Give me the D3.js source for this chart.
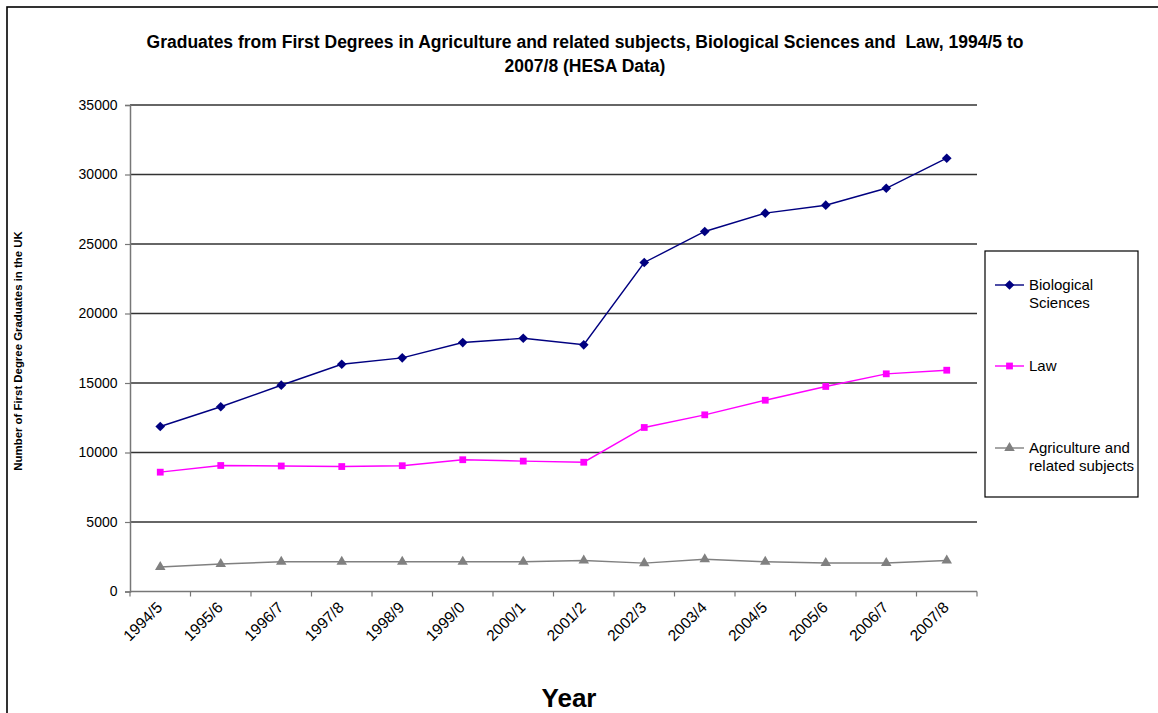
<!DOCTYPE html>
<html>
<head>
<meta charset="utf-8">
<script src="https://cdn.jsdelivr.net/npm/d3@7"></script>
<style>
  html, body { margin: 0; padding: 0; background: #fff; }
  svg { display: block; font-family: "Liberation Sans", Arial, sans-serif; }
</style>
</head>
<body>
<svg id="chart" width="1158" height="713"></svg>
<script>
// Academic years (x categories)
const years = ["1994/5", "1995/6", "1996/7", "1997/8", "1998/9", "1999/0", "2000/1",
               "2001/2", "2002/3", "2003/4", "2004/5", "2005/6", "2006/7", "2007/8"];

// First degree graduates per subject
const biologicalSciences = [11870, 13290, 14840, 16350, 16810, 17910, 18220,
                            17750, 23670, 25900, 27220, 27790, 29010, 31170];
const law = [8585, 9065, 9030, 8990, 9050, 9480, 9380,
             9300, 11800, 12710, 13760, 14750, 15660, 15920];
const agriculture = [1760, 1980, 2140, 2140, 2140, 2140, 2140,
                     2230, 2040, 2320, 2140, 2050, 2050, 2230];

const yTicks = [0, 5000, 10000, 15000, 20000, 25000, 30000, 35000];

const series = [
  { name: ["Biological", "Sciences"], values: biologicalSciences, color: "#000080", symbol: d3.symbolDiamond2 || d3.symbolDiamond, size: 60 },
  { name: ["Law"], values: law, color: "#FF00FF", symbol: d3.symbolSquare, size: 46 },
  { name: ["Agriculture and", "related subjects"], values: agriculture, color: "#808080", symbol: d3.symbolTriangle, size: 48 }
];

const svg = d3.select("#chart");

// outer chart frame
svg.append("rect").attr("x", 7).attr("y", 7).attr("width", 1200).attr("height", 800)
  .attr("fill", "none").attr("stroke", "#000").attr("stroke-width", 1.6);

const plot = { left: 130, right: 977, top: 105, bottom: 591.5 };

const x = d3.scaleBand().domain(years).range([plot.left, plot.right]);
const y = d3.scaleLinear().domain([0, 35000]).range([plot.bottom, plot.top]);

// horizontal gridlines
svg.append("g").selectAll("line").data(yTicks.filter(t => t > 0)).join("line")
  .attr("x1", plot.left).attr("x2", plot.right)
  .attr("y1", d => y(d)).attr("y2", d => y(d))
  .attr("stroke", "#333").attr("stroke-width", 1.3);

// y axis
const yAxis = svg.append("g").attr("transform", `translate(${plot.left},0)`)
  .call(d3.axisLeft(y).tickValues(yTicks).tickSize(5).tickPadding(7.5).tickFormat(d3.format("d")));
yAxis.attr("font-size", null).attr("font-family", null);
yAxis.select(".domain").attr("stroke", "#777").attr("stroke-width", 1.5);
yAxis.selectAll(".tick line").attr("stroke", "#777").attr("stroke-width", 1.2);
yAxis.selectAll(".tick text").attr("font-size", 14).attr("fill", "#000");

// x axis with ticks at category boundaries
const xAxis = svg.append("g").attr("transform", `translate(0,${plot.bottom})`);
xAxis.append("line").attr("x1", plot.left).attr("x2", plot.right)
  .attr("stroke", "#777").attr("stroke-width", 1.5);
const boundaries = years.map(d => x(d)).concat([x(years[years.length - 1]) + x.bandwidth()]);
xAxis.selectAll("line.tick").data(boundaries).join("line").attr("class", "tick")
  .attr("x1", d => d).attr("x2", d => d).attr("y1", 0).attr("y2", 5)
  .attr("stroke", "#777").attr("stroke-width", 1.2);
xAxis.selectAll("text").data(years).join("text")
  .attr("transform", d => `translate(${x(d) + x.bandwidth() / 2 + 3},${17}) rotate(-45)`)
  .attr("text-anchor", "end")
  .attr("font-size", 15.5)
  .text(d => d);

// series lines and markers
const line = d3.line().x((d, i) => x(years[i]) + x.bandwidth() / 2).y(d => y(d));
series.forEach(s => {
  const g = svg.append("g");
  g.append("path").datum(s.values).attr("d", line)
    .attr("fill", "none").attr("stroke", s.color).attr("stroke-width", 1.4);
  g.selectAll("path.m").data(s.values).join("path").attr("class", "m")
    .attr("transform", (d, i) => `translate(${x(years[i]) + x.bandwidth() / 2},${y(d)})`)
    .attr("d", d3.symbol().type(s.symbol).size(s.size))
    .attr("fill", s.color);
});

// title
const title = svg.append("text").attr("x", 585).attr("y", 48)
  .attr("text-anchor", "middle").attr("font-weight", "bold").attr("font-size", 17.5);
title.append("tspan").attr("x", 585).text("Graduates from First Degrees in Agriculture and related subjects, Biological Sciences and\u00a0 Law, 1994/5 to");
title.append("tspan").attr("x", 585).attr("dy", 24).text("2007/8 (HESA Data)");

// axis titles
svg.append("text").attr("transform", "translate(22,351) rotate(-90)")
  .attr("text-anchor", "middle").attr("font-weight", "bold").attr("font-size", 11.4)
  .text("Number of First Degree Graduates in the UK");
svg.append("text").attr("x", 569).attr("y", 707)
  .attr("text-anchor", "middle").attr("font-weight", "bold").attr("font-size", 26)
  .text("Year");

// legend
const legend = svg.append("g");
legend.append("rect").attr("x", 985).attr("y", 251).attr("width", 153).attr("height", 246)
  .attr("fill", "#fff").attr("stroke", "#000").attr("stroke-width", 1.2);
const legendY = [285, 366, 448];
series.forEach((s, i) => {
  const ly = legendY[i];
  legend.append("line").attr("x1", 995).attr("x2", 1024).attr("y1", ly).attr("y2", ly)
    .attr("stroke", s.color).attr("stroke-width", 1.4);
  legend.append("path").attr("transform", `translate(1009.5,${ly})`)
    .attr("d", d3.symbol().type(s.symbol).size(s.size)).attr("fill", s.color);
  const t = legend.append("text").attr("x", 1029).attr("y", ly + 5).attr("font-size", 15);
  s.name.forEach((n, k) => t.append("tspan").attr("x", 1029).attr("dy", k === 0 ? 0 : 17.5).text(n));
});
</script>
</body>
</html>
